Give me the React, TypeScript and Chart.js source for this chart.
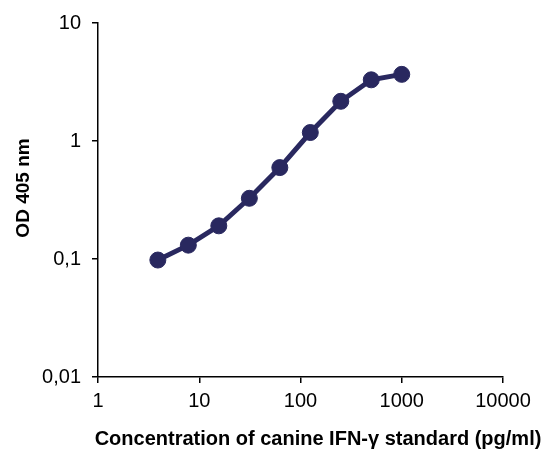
import React, { useEffect, useRef } from "react";
import { Chart, registerables } from "chart.js";

Chart.register(...registerables);

const concentrations = [3.9, 7.8, 15.6, 31.25, 62.5, 125, 250, 500, 1000];
const odValues = [0.098, 0.131, 0.191, 0.327, 0.595, 1.18, 2.17, 3.3, 3.67];
const xTickValues = [1, 10, 100, 1000, 10000];
const xTickLabels = ["1", "10", "100", "1000", "10000"];
const yTickValues = [0.01, 0.1, 1, 10];
const yTickLabels = ["0,01", "0,1", "1", "10"];
const xTitle = "Concentration of canine IFN-\u03b3 standard (pg/ml)";
const yTitle = "OD 405 nm";

const FONT = "'Liberation Sans', Arial, sans-serif";
const COLOR = "#29285f";

const titlePlugin = {
  id: "axisTitles",
  afterDraw(chart: any) {
    const ctx = chart.ctx;
    const a = chart.chartArea;
    ctx.save();
    ctx.fillStyle = "#000";
    ctx.font = `bold 20px ${FONT}`;
    ctx.textAlign = "center";
    ctx.textBaseline = "alphabetic";
    ctx.fillText(xTitle, a.left + 220, 445);
    ctx.translate(28.5, a.top + 165);
    ctx.rotate(-Math.PI / 2);
    ctx.font = `bold 19px ${FONT}`;
    ctx.fillText(yTitle, 0, 0);
    ctx.restore();
  },
};

export default function App() {
  const ref = useRef<HTMLCanvasElement | null>(null);
  useEffect(() => {
    document.body.style.margin = "0";
    const chart = new Chart(ref.current as HTMLCanvasElement, {
      type: "line",
      data: {
        datasets: [
          {
            data: concentrations.map((x, i) => ({ x, y: odValues[i] })),
            borderColor: COLOR,
            backgroundColor: COLOR,
            borderWidth: 5,
            pointRadius: 8,
            pointBorderWidth: 1,
            pointBackgroundColor: COLOR,
            pointBorderColor: COLOR,
            tension: 0,
          },
        ],
      },
      options: {
        animation: false,
        responsive: false,
        devicePixelRatio: 1,
        layout: { padding: { top: 20, right: 44, left: 0, bottom: 0 } },
        plugins: { legend: { display: false }, tooltip: { enabled: false } },
        scales: {
          x: {
            type: "logarithmic",
            min: 1,
            max: 10000,
            afterFit(scale: any) {
              scale.height = 73;
            },
            afterBuildTicks(scale: any) {
              scale.ticks = xTickValues.map((v) => ({ value: v }));
            },
            grid: {
              drawOnChartArea: false,
              drawTicks: true,
              tickLength: 6,
              color: "#000",
              lineWidth: 1.5,
            },
            border: { display: true, color: "#000", width: 1.5 },
            ticks: {
              color: "#000",
              font: { family: FONT, size: 20 },
              padding: 6,
              maxRotation: 0,
              autoSkip: false,
              callback: (v: any) => {
                const i = xTickValues.indexOf(Number(v));
                return i >= 0 ? xTickLabels[i] : "";
              },
            },
          },
          y: {
            type: "logarithmic",
            min: 0.01,
            max: 10,
            afterFit(scale: any) {
              scale.width = 98;
            },
            afterBuildTicks(scale: any) {
              scale.ticks = yTickValues.map((v) => ({ value: v }));
            },
            grid: {
              drawOnChartArea: false,
              drawTicks: true,
              tickLength: 6,
              color: "#000",
              lineWidth: 1.5,
            },
            border: { display: true, color: "#000", width: 1.5 },
            ticks: {
              color: "#000",
              font: { family: FONT, size: 20 },
              padding: 11,
              autoSkip: false,
              callback: (v: any) => {
                const i = yTickValues.findIndex((t) => Math.abs(t - Number(v)) < 1e-9);
                return i >= 0 ? yTickLabels[i] : "";
              },
            },
          },
        },
      } as any,
      plugins: [titlePlugin],
    });
    return () => chart.destroy();
  }, []);
  return (
    <div style={{ width: 547, height: 450 }}>
      <canvas ref={ref} width={547} height={450} style={{ display: "block" }} />
    </div>
  );
}
